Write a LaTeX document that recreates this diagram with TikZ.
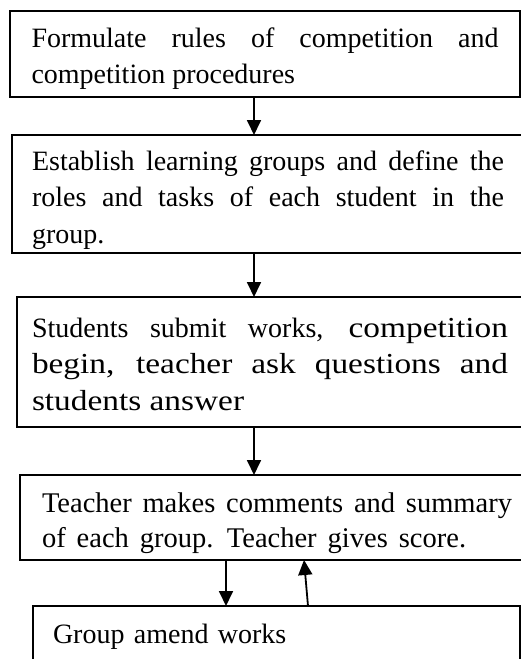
\documentclass[tikz,border=0pt]{standalone}
\usepackage{fontspec}
\setmainfont{Liberation Serif}
\newfontfamily\widefont[FakeStretch=1.15]{Liberation Serif}
\usepackage{tikz}
\usetikzlibrary{arrows.meta}
\tikzstyle{stepbox} = [draw, line width=1.4pt, anchor=north west, outer sep=0pt, inner ysep=0pt, align=justify, font=\fontsize{28}{36.5}\selectfont]
\tikzstyle{flow} = [line width=1.8pt, -{Triangle[length=15pt,width=14pt]}]
\newcommand{\bigtext}{\widefont\fontsize{29}{37.5}\selectfont}

\begin{document}
\begin{tikzpicture}[x=1pt,y=-1pt]
			\useasboundingbox (0,0) rectangle (521,659);
			\node[stepbox, text width=467pt, inner xsep=21.5pt, text height=36pt, text depth=50pt] (rules) at (10,11) {Formulate rules of competition and\linebreak competition procedures};
			\node[stepbox, text width=472pt, inner xsep=20pt, text height=35pt, text depth=83pt] (groups) at (12,135) {Establish learning groups and define the\linebreak roles and tasks of each student in the\linebreak group.};
			\node[stepbox, text width=476pt, inner xsep=15pt, text height=40pt, text depth=90pt] (submit) at (17,297) {Students submit works, {\bigtext competition\linebreak begin, teacher ask questions and\linebreak students answer}};
			\node[stepbox, text width=470pt, inner xsep=22pt, text height=37pt, text depth=48pt, font=\fontsize{28.5}{35}\selectfont] (score) at (20,475) {Teacher makes comments and summary\linebreak {\spaceskip=11pt plus 2pt of each group. Teacher gives score.}};
			\node[stepbox, text width=447pt, inner xsep=20pt, text height=37pt, text depth=40pt, align=left] (amend) at (33,606) {Group amend works};
			\coordinate (mid) at (254,0);
			\coordinate (down) at (226,0);
			\coordinate (upfoot) at (308,0);
			\coordinate (uphead) at (304,0);
			\draw[flow] (rules.south -| mid) -- (groups.north -| mid);
			\draw[flow] (groups.south -| mid) -- (submit.north -| mid);
			\draw[flow] (submit.south -| mid) -- (score.north -| mid);
			\draw[flow] (score.south -| down) -- (amend.north -| down);
			\draw[flow] (amend.north -| upfoot) -- (score.south -| uphead);
		\end{tikzpicture}
\end{document}
